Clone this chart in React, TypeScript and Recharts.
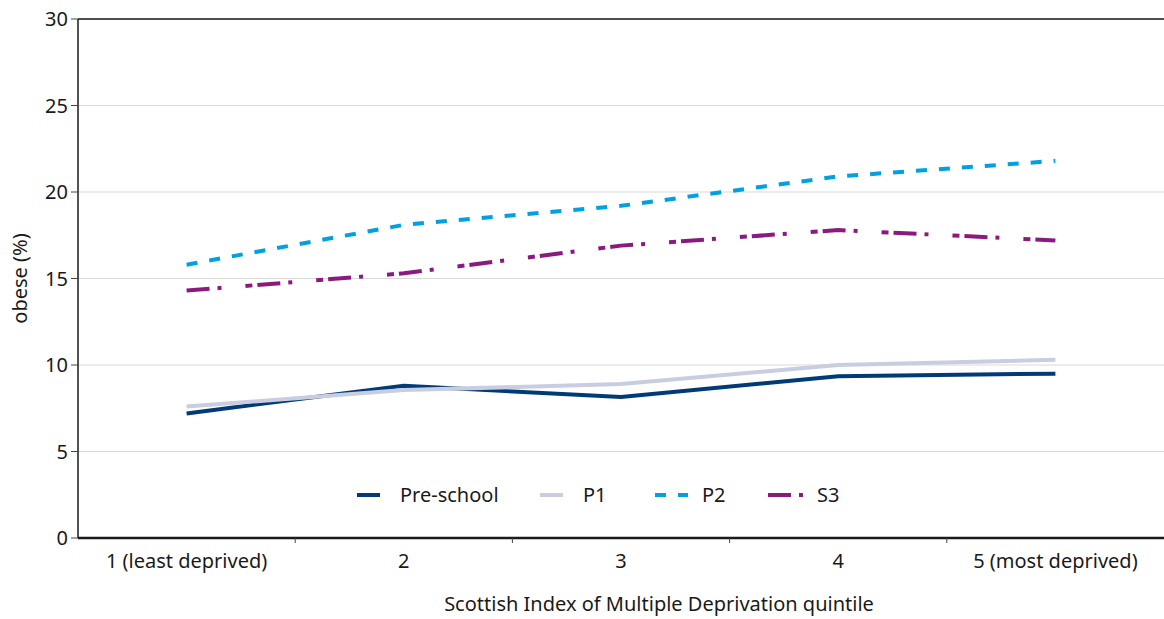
import React from 'react';
import { LineChart, Line, XAxis, YAxis, CartesianGrid, Legend, ReferenceLine, Label } from 'recharts';

const quintiles = [1, 2, 3, 4, 5];
const quintileLabels = ['1 (least deprived)', '2', '3', '4', '5 (most deprived)'];
const seriesNames = ['Pre-school', 'P1', 'P2', 'S3'];
const preSchool = [7.2, 8.8, 8.15, 9.35, 9.5];
const p1 = [7.6, 8.55, 8.9, 10.0, 10.3];
const p2 = [15.8, 18.1, 19.2, 20.9, 21.8];
const s3 = [14.3, 15.3, 16.9, 17.8, 17.2];
const yTicks = [0, 5, 10, 15, 20, 25, 30];
const xTicks = [1, 1.5, 2, 2.5, 3, 3.5, 4, 4.5, 5];

const data = quintiles.map((q, i) => ({
  q,
  preSchool: preSchool[i],
  p1: p1[i],
  p2: p2[i],
  s3: s3[i],
}));

const FONT = '"Noto Sans", "Open Sans", sans-serif';
const TEXT = '#1a1a1a';
const FS = 20;

const XTick = (props: any) => {
  const { x, y, payload } = props;
  const v = payload.value as number;
  if (Number.isInteger(v)) {
    return (
      <text x={x} y={y + 22} textAnchor="middle" fontSize={FS} fill={TEXT} fontFamily={FONT}>
        {quintileLabels[v - 1]}
      </text>
    );
  }
  return <line x1={x} x2={x} y1={y - 8} y2={y - 3} stroke="#444" strokeWidth={1} />;
};

const legendLeft = [357, 540, 655, 768];
const iconWidth = [23, 23, 33, 35];
const textGap = [20, 20, 14, 14];

const LegendContent = (props: any) => {
  const payload = [...(props.payload || [])].sort(
    (a: any, b: any) => seriesNames.indexOf(a.value) - seriesNames.indexOf(b.value)
  );
  return (
    <div style={{ position: 'relative', width: 1164, height: 30, fontFamily: FONT }}>
      {payload.map((entry: any, i: number) => (
        <div
          key={entry.value}
          style={{ position: 'absolute', left: legendLeft[i], top: 0, height: 30, display: 'flex', alignItems: 'center' }}
        >
          <svg width={iconWidth[i]} height={10} style={{ display: 'block' }}>
            <line
              x1={0}
              x2={iconWidth[i]}
              y1={5}
              y2={5}
              stroke={entry.color}
              strokeWidth={4}
              strokeDasharray={entry.payload && entry.payload.strokeDasharray}
            />
          </svg>
          <span style={{ marginLeft: textGap[i], fontSize: FS, color: TEXT, lineHeight: '30px' }}>{entry.value}</span>
        </div>
      ))}
    </div>
  );
};

export default function App() {
  return (
    <div style={{ position: 'absolute', left: 0, top: 0, width: 1164, height: 619, background: '#fff', fontFamily: FONT }}>
      <LineChart width={1164} height={619} data={data} margin={{ top: 19, right: 0, bottom: 0, left: 0 }}>
        <CartesianGrid vertical={false} stroke="#d9d9d9" strokeWidth={1} />
        <XAxis
          dataKey="q"
          type="number"
          domain={[0.5, 5.5]}
          ticks={xTicks}
          interval={0}
          height={81}
          tickLine={false}
          axisLine={{ stroke: '#1a1a1a', strokeWidth: 2.5 }}
          tick={<XTick />}
        >
          <Label
            value="Scottish Index of Multiple Deprivation quintile"
            position="insideBottom"
            offset={8}
            dx={38}
            fontSize={FS}
            fill={TEXT}
          />
        </XAxis>
        <YAxis
          domain={[0, 30]}
          ticks={yTicks}
          width={78}
          tickSize={7}
          tickMargin={3}
          tickLine={{ stroke: '#444' }}
          axisLine={{ stroke: '#1a1a1a', strokeWidth: 1.5 }}
          tick={{ fontSize: FS, fill: TEXT }}
        >
          <Label
            content={() => (
              <text transform="translate(27,278.5) rotate(-90)" x={0} y={0} textAnchor="middle" fontSize={FS} fill={TEXT}>
                obese (%)
              </text>
            )}
          />
        </YAxis>
        <ReferenceLine y={30} stroke="#1a1a1a" strokeWidth={1.5} />
        <Legend
          verticalAlign="middle"
          align="center"
          layout="horizontal"
          wrapperStyle={{ top: 480, left: 0, width: 1164, height: 30 }}
          content={<LegendContent />}
        />
        <Line name="Pre-school" dataKey="preSchool" stroke="#003b78" strokeWidth={4} dot={false} isAnimationActive={false} />
        <Line name="P1" dataKey="p1" stroke="#c9cde1" strokeWidth={4} dot={false} isAnimationActive={false} />
        <Line name="P2" dataKey="p2" stroke="#00a0e2" strokeWidth={4} strokeDasharray="11 12" dot={false} isAnimationActive={false} />
        <Line name="S3" dataKey="s3" stroke="#8b1a80" strokeWidth={4} strokeDasharray="23 8 4 24 7 5" dot={false} isAnimationActive={false} />
      </LineChart>
    </div>
  );
}
